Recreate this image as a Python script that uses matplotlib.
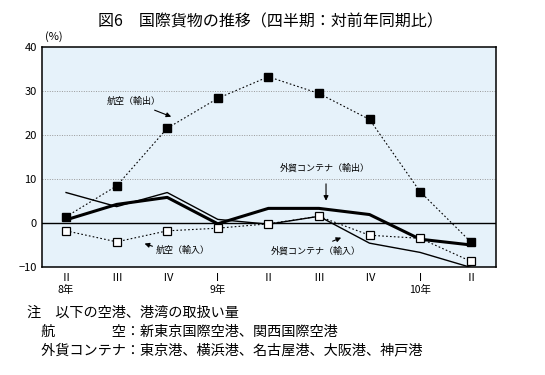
import matplotlib
matplotlib.use("Agg")
import matplotlib.pyplot as plt

plt.rcParams['font.family'] = ['Noto Sans CJK JP', 'DejaVu Sans']

quarters = ["Ⅱ", "Ⅲ", "Ⅳ", "Ⅰ", "Ⅱ", "Ⅲ", "Ⅳ", "Ⅰ", "Ⅱ"]
years = ["8年", "9年", "10年"]
year_pos = [0, 3, 7]

air_export = [1.5, 8.5, 21.6, 28.4, 33.3, 29.5, 23.6, 7.2, -4.2]
air_import = [-1.7, -4.2, -1.7, -1.1, -0.1, 1.6, -2.7, -3.4, -8.6]
cont_export = [0.8, 4.3, 5.9, -0.1, 3.4, 3.4, 2.0, -3.6, -4.9]
cont_import = [7.0, 3.8, 7.0, 0.9, -0.2, 1.6, -4.5, -6.6, -10.0]

yticks = [-10, 0, 10, 20, 30, 40]
ytick_labels = ["−10", "0", "10", "20", "30", "40"]

title = "図6　国際貨物の推移（四半期：対前年同期比）"
notes = ["注　以下の空港、港湾の取扱い量",
         "　航　　　　空：新東京国際空港、関西国際空港",
         "　外貨コンテナ：東京港、横浜港、名古屋港、大阪港、神戸港"]

fig = plt.figure(figsize=(5.45, 3.75), dpi=100)
ax = fig.add_axes([0.0776, 0.287, 0.8324, 0.587])
ax.set_facecolor("#e6f2fa")

x = list(range(len(quarters)))

for yv in [10, 20, 30]:
    ax.axhline(yv, color="#999999", lw=0.7, ls=(0, (1, 1.5)), zorder=1)
ax.axhline(0, color="black", lw=1.0, zorder=2)

ax.plot(x, cont_import, color="black", lw=1.0, zorder=3)
ax.plot(x, cont_export, color="black", lw=2.2, zorder=3)
ax.plot(x, air_export, color="black", lw=0.8, ls=(0, (1.5, 2)),
        marker="s", ms=5.5, mfc="black", mec="black", zorder=4)
ax.plot(x, air_import, color="black", lw=0.8, ls=(0, (1.5, 2)),
        marker="s", ms=5.5, mfc="white", mec="black", mew=0.9, zorder=4)

ax.set_xlim(-0.47, 8.5)
ax.set_ylim(-10, 40)
ax.set_yticks(yticks)
ax.set_yticklabels(ytick_labels, fontsize=8)
ax.set_xticks(x)
ax.set_xticklabels(quarters, fontsize=8)
ax.tick_params(length=0, pad=4)
for s in ax.spines.values():
    s.set_linewidth(1.1)

for lbl, p in zip(years, year_pos):
    ax.annotate(lbl, xy=(p, -10), xytext=(0, -16.5), textcoords="offset points",
                ha="center", va="center", fontsize=7.5)

ax.annotate("(%)", xy=(0, 1), xycoords="axes fraction", xytext=(8, 8),
            textcoords="offset points", ha="center", va="center", fontsize=8)

arw = dict(arrowstyle="-|>", color="black", lw=0.8, mutation_scale=7)
ax.annotate("航空（輸出）", xy=(2.13, 24.0), xytext=(1.33, 27.6), fontsize=6.5,
            ha="center", va="center", arrowprops=arw)
ax.annotate("外貿コンテナ（輸出）", xy=(5.14, 4.6), xytext=(5.12, 12.5), fontsize=6.5,
            ha="center", va="center")
ax.annotate("", xy=(5.14, 4.5), xytext=(5.14, 9.6), arrowprops=arw)
ax.annotate("航空（輸入）", xy=(1.5, -4.4), xytext=(2.3, -6.1), fontsize=6.5,
            ha="center", va="center")
ax.annotate("", xy=(1.5, -4.4), xytext=(1.76, -5.4), arrowprops=arw)
ax.annotate("外貿コンテナ（輸入）", xy=(5.49, -3.0), xytext=(4.94, -6.2), fontsize=6.5,
            ha="center", va="center")
ax.annotate("", xy=(5.49, -3.0), xytext=(5.22, -4.3), arrowprops=arw)

fig.text(270 / 545, 1 - 22 / 375, title, ha="center", va="center", fontsize=11.5)

for i, line in enumerate(notes):
    fig.text(27 / 545, 1 - (313 + 18.5 * i) / 375, line, ha="left", va="center",
             fontsize=10.2)

fig.savefig("out.png", dpi=100)
